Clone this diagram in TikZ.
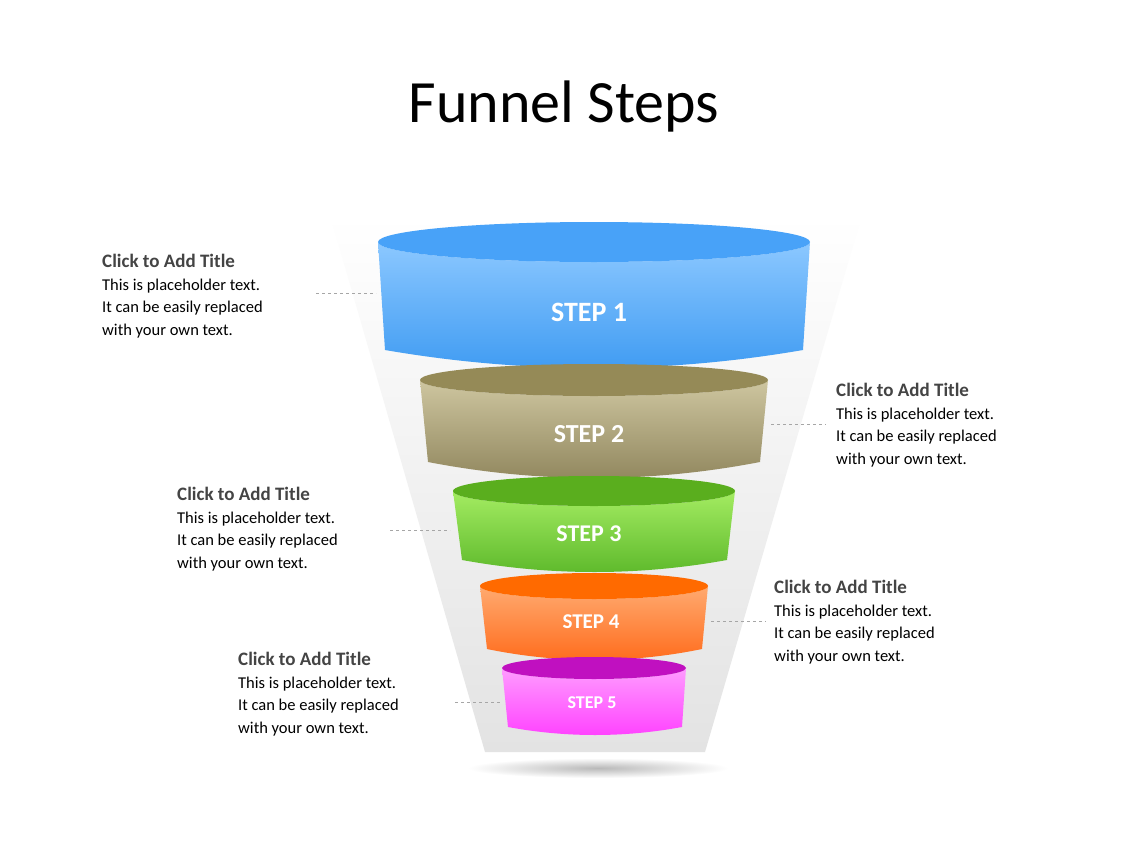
\documentclass[tikz,border=0pt]{standalone}
\usepackage{fontspec}
\setmainfont{Carlito}
\usetikzlibrary{calc}
\definecolor{ttl}{HTML}{444444}
\definecolor{sAtop}{HTML}{48A2F8}\definecolor{sAa}{HTML}{8CC8FF}\definecolor{sAb}{HTML}{3D9AF2}
\definecolor{sBtop}{HTML}{958A57}\definecolor{sBa}{HTML}{CEC6A0}\definecolor{sBb}{HTML}{8F855C}
\definecolor{sCtop}{HTML}{5AAE1E}\definecolor{sCa}{HTML}{A4EC62}\definecolor{sCb}{HTML}{5CB82A}
\definecolor{sDtop}{HTML}{FF6A00}\definecolor{sDa}{HTML}{FFAA70}\definecolor{sDb}{HTML}{FF6A1A}
\definecolor{sEtop}{HTML}{C010C0}\definecolor{sEa}{HTML}{FF9CFF}\definecolor{sEb}{HTML}{FF40FF}
\tikzset{
  lbl/.style={anchor=north west,align=left,font=\fontsize{16.5}{22.5}\selectfont,inner sep=0pt},
  lead/.style={draw=gray!70,dashed,line width=0.8pt},
  steptxt/.style={text=white,font=\bfseries}
}
% xl1 xr1 yt ry xl2 xr2 yb sag colorprefix
\newcommand\fseg[9]{%
  \shade[top color=#9a,bottom color=#9b]
   (#1,#3) -- (#5,#7) .. controls ({(2*#5+#6)/3},{#7+#8*4/3}) and ({(#5+2*#6)/3},{#7+#8*4/3}) .. (#6,#7)
   -- (#2,#3) arc[start angle=0,end angle=180,x radius={(#2-#1)/2},y radius=#4] -- cycle;
  \fill[#9top] ({(#1+#2)/2},#3) ellipse[x radius={(#2-#1)/2},y radius=#4];
}
\begin{document}
\begin{tikzpicture}[x=1pt,y=-1pt]
\useasboundingbox (0,0) rectangle (1128,846);
\fill[white] (0,0) rectangle (1128,846);
\node[font=\fontsize{60}{60}\selectfont,text=black] (title) at (564,107) {Funnel Steps};
% background funnel
\shade[top color=white,bottom color=gray!22] (330,215) -- (862,215) -- (705,752) -- (485,752) -- cycle;
\shade[inner color=gray!55,outer color=white] (598,768) ellipse[x radius=130,y radius=10];
% segments
\fseg{378}{810}{242}{20}{385}{803}{350}{18}{sA}
\fseg{420}{768}{380}{16}{428}{760}{462}{16}{sB}
\fseg{453}{735}{491}{15}{462}{727}{560}{12}{sC}
\fseg{480}{708}{586}{13}{487}{702}{649}{11}{sD}
\fseg{502}{686}{668}{11}{508}{682}{727}{8}{sE}
\node[steptxt,font=\fontsize{28}{28}\selectfont\bfseries] (s1) at (589,312) {STEP 1};
\node[steptxt,font=\fontsize{26}{26}\selectfont\bfseries] (s2) at (589,434) {STEP 2};
\node[steptxt,font=\fontsize{24}{24}\selectfont\bfseries] (s3) at (589,534) {STEP 3};
\node[steptxt,font=\fontsize{21}{21}\selectfont\bfseries] (s4) at (591,622) {STEP 4};
\node[steptxt,font=\fontsize{18}{18}\selectfont\bfseries] (s5) at (592,703) {STEP 5};
% labels
\newcommand\lbltext{{\color{ttl}\fontsize{19}{22}\selectfont\bfseries Click to Add Title}\\This is placeholder text.\\It can be easily replaced\\with your own text.}
\node[lbl] (t1) at (102,254) {\lbltext};
\node[lbl] (t2) at (836,383) {\lbltext};
\node[lbl] (t3) at (177,487) {\lbltext};
\node[lbl] (t4) at (774,580) {\lbltext};
\node[lbl] (t5) at (238,652) {\lbltext};
\coordinate (a1) at (316,293); \coordinate (b1) at (376,293);
\coordinate (a2) at (771,424); \coordinate (b2) at (826,424);
\coordinate (a3) at (390,530); \coordinate (b3) at (450,530);
\coordinate (a4) at (711,621); \coordinate (b4) at (766,621);
\coordinate (a5) at (455,702); \coordinate (b5) at (500,702);
\foreach \i in {1,...,5} \draw[lead] (a\i) -- (b\i);
\end{tikzpicture}
\end{document}
